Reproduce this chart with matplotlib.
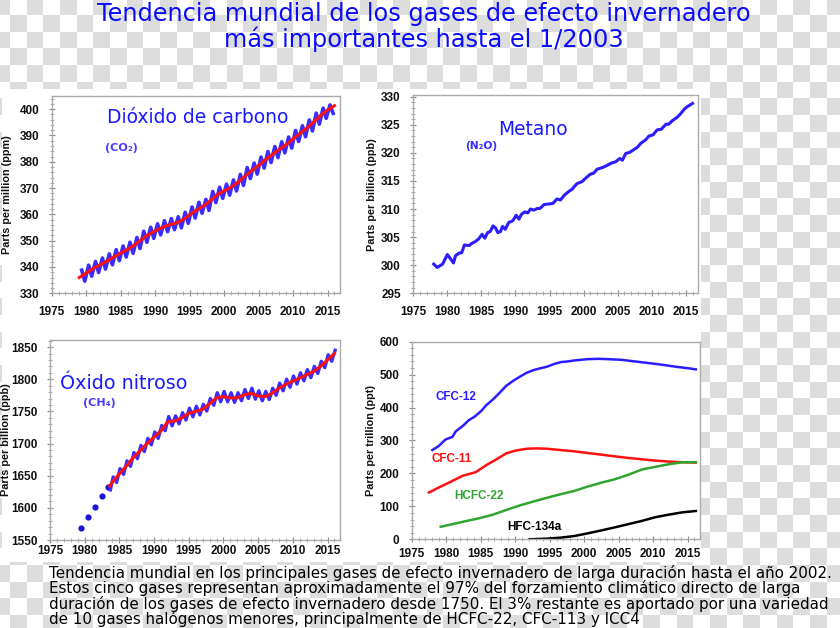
import numpy as np
import matplotlib
matplotlib.use("Agg")
import matplotlib.pyplot as plt
from matplotlib.patches import Rectangle
from matplotlib.ticker import AutoMinorLocator

# ---- data ----
# CO2 (ppm): smoothed trend and seasonal highs / lows
co2_trend_years = list(range(1979, 2017))
co2_trend = [336.0, 337.7, 339.4, 340.8, 342.2, 343.8, 345.3, 346.7, 348.3, 350.4,
             352.3, 353.7, 355.0, 356.0, 356.7, 357.9, 359.8, 361.7, 363.1, 365.2,
             367.5, 368.9, 370.3, 372.2, 374.5, 376.6, 378.6, 380.8, 382.8, 384.7,
             386.5, 388.7, 390.8, 392.8, 395.2, 397.6, 399.7, 401.3]
co2_years = list(range(1979, 2016))
co2_high = [338.8, 340.7, 342.1, 343.4, 345.0, 346.6, 348.0, 349.4, 351.2, 353.6,
            355.1, 356.4, 357.6, 358.4, 359.1, 360.8, 362.8, 364.6, 365.7, 368.7,
            370.3, 371.5, 373.1, 375.2, 377.8, 379.5, 381.8, 383.9, 385.8, 387.6,
            389.4, 391.9, 393.7, 395.9, 398.5, 400.4, 401.6]
co2_low = [334.6, 336.5, 337.9, 339.2, 340.8, 342.4, 343.8, 345.2, 347.0, 349.4,
           350.9, 352.2, 353.4, 354.2, 354.9, 356.6, 358.6, 360.4, 361.5, 364.5,
           366.1, 367.3, 368.9, 371.0, 373.6, 375.3, 377.6, 379.7, 381.6, 383.4,
           385.2, 387.7, 389.5, 391.7, 394.3, 396.5, 398.4]

# N2O panel (ppb)
n2o_years = [1978.0, 1978.5, 1979.3, 1980.0, 1980.6, 1980.9, 1981.2, 1981.8, 1982.1, 1982.5,
             1983.2, 1983.6, 1984.1, 1984.6, 1985.1, 1985.5, 1985.9, 1986.3, 1986.7, 1987.1,
             1987.4, 1987.8, 1988.1, 1988.5, 1989.0, 1989.6, 1990.1, 1990.5, 1990.9, 1991.4,
             1991.8, 1992.2, 1992.7, 1993.2, 1993.6, 1994.2, 1994.9, 1995.5, 1996.1, 1996.6,
             1997.2, 1997.8, 1998.3, 1999.0, 1999.8, 2000.4, 2001.0, 2001.5, 2002.0, 2002.8,
             2003.5, 2004.1, 2004.7, 2005.3, 2005.7, 2006.2, 2006.8, 2007.4, 2007.9, 2008.4,
             2009.1, 2009.6, 2010.2, 2010.8, 2011.4, 2012.1, 2012.5, 2013.0, 2013.7, 2014.2,
             2014.8, 2015.2, 2016.0]
n2o = [300.2, 299.6, 300.2, 301.9, 300.9, 300.4, 301.7, 302.2, 302.2, 303.6,
       303.5, 303.9, 304.2, 304.7, 305.5, 304.8, 305.8, 306.0, 307.0, 306.6,
       305.8, 306.0, 306.9, 306.4, 307.6, 307.9, 308.9, 308.2, 309.1, 309.5,
       309.3, 310.0, 309.8, 310.1, 310.1, 310.8, 310.9, 311.0, 311.8, 311.6,
       312.5, 313.1, 313.5, 314.5, 314.9, 315.6, 316.2, 316.4, 317.1, 317.4,
       317.8, 318.2, 318.4, 319.0, 318.7, 319.9, 320.1, 320.6, 321.0, 321.7,
       322.3, 323.0, 323.2, 324.1, 324.2, 325.1, 325.1, 325.7, 326.3, 326.9,
       327.8, 328.2, 328.8]

# CH4 panel (ppb)
ch4_dot_years = [1979.5, 1980.5, 1981.5, 1982.5, 1983.4]
ch4_dots = [1568, 1585, 1602, 1619, 1633]
ch4_trend_years = [1983.6] + list(range(1984, 2017))
ch4_trend = [1634, 1640, 1653, 1665, 1678, 1689, 1700, 1710, 1720, 1734, 1735,
             1740, 1747, 1750, 1753, 1762, 1771, 1773, 1771, 1771, 1776,
             1778, 1774, 1773, 1778, 1786, 1792, 1797, 1802, 1807, 1812,
             1820, 1830, 1840]
ch4_years = list(range(1984, 2016))
ch4_high = [1648, 1661, 1673, 1686, 1697, 1708, 1718, 1728, 1742, 1743,
            1748, 1755, 1758, 1761, 1770, 1779, 1781, 1779, 1779, 1784,
            1786, 1782, 1781, 1786, 1794, 1800, 1805, 1810, 1815, 1820,
            1828, 1838]
ch4_low = [1639.5, 1652, 1664.5, 1676.5, 1687.5, 1698, 1708, 1720, 1727.5, 1730.5,
           1736.5, 1741.5, 1744.5, 1750.5, 1759.5, 1765, 1765, 1764, 1766.5, 1770,
           1769, 1766.5, 1768.5, 1775, 1782, 1787.5, 1792.5, 1797.5, 1802.5, 1809,
           1818, 1828]

# halocarbons (ppt)
cfc12_years = [1978.0, 1978.9, 1979.9, 1980.9, 1981.4, 1982.4, 1983.3, 1984.1, 1985.1, 1985.8,
               1986.8, 1987.8, 1988.7, 1989.7, 1990.7, 1991.7, 1992.7, 1993.6, 1994.6, 1995.6,
               1996.6, 1997.6, 1998.6, 1999.5, 2000.5, 2002.0, 2003.5, 2005.4, 2007.4, 2009.4,
               2011.3, 2013.3, 2015.2, 2016.2]
cfc12 = [271, 283, 303, 311, 328, 344, 362, 372, 390, 407,
         425, 446, 466, 481, 494, 506, 514, 519, 524, 532,
         538, 540, 543, 545, 547, 548, 547, 545, 540, 535,
         530, 524, 519, 516]
cfc11_years = [1977.5, 1978.9, 1980.4, 1982.4, 1984.3, 1985.8, 1987.3, 1988.7, 1990.2, 1991.7,
               1993.2, 1994.6, 1996.6, 1998.6, 2000.5, 2002.5, 2004.4, 2006.4, 2008.4, 2010.3,
               2012.3, 2014.3, 2016.2]
cfc11 = [142, 157, 172, 193, 204, 225, 243, 261, 270, 275,
         276, 275, 271, 267, 262, 257, 252, 247, 243, 239,
         236, 234, 233]
hcfc22_years = [1979.2, 1980.9, 1982.8, 1984.8, 1986.8, 1988.7, 1990.7, 1992.7, 1994.6, 1996.6,
                1998.6, 2000.5, 2002.5, 2004.4, 2006.4, 2008.4, 2010.3, 2012.3, 2014.3, 2016.2]
hcfc22 = [38, 46, 55, 64, 75, 89, 103, 115, 126, 137,
          147, 160, 172, 182, 196, 212, 220, 228, 234, 234]
hfc134a_years = [1992.1, 1994.6, 1996.6, 1998.6, 2000.5, 2002.5, 2004.4, 2006.4, 2008.4, 2010.3,
                 2012.3, 2014.3, 2016.2]
hfc134a = [0, 2, 5, 10, 18, 27, 36, 46, 56, 67, 75, 82, 86]

xticks = [1975, 1980, 1985, 1990, 1995, 2000, 2005, 2010, 2015]

title1 = "Tendencia mundial de los gases de efecto invernadero"
title2 = "más importantes hasta el 1/2003"
caption = ["Tendencia mundial en los principales gases de efecto invernadero de larga duración hasta el año 2002.",
           "Estos cinco gases representan aproximadamente el 97% del forzamiento climático directo de larga",
           "duración de los gases de efecto invernadero desde 1750. El 3% restante es aportado por una variedad",
           "de 10 gases halógenos menores, principalmente de HCFC-22, CFC-113 y ICC4"]

W, H = 840, 628
fig = plt.figure(figsize=(W / 100, H / 100), dpi=100)

# checkered "transparent" backdrop with the white chart area on top
bg = fig.add_axes([0, 0, 1, 1], zorder=-10)
xs = np.arange(W) + 0.5
ys = np.arange(H) + 0.5
cell = 50 / 3
col = np.floor((xs - 10) / cell)
row = np.floor((ys - 15) / cell)
mask = ((col[None, :] + row[:, None]) % 2) == 0
img = np.ones((H, W, 3))
img[mask] = 0.867
bg.imshow(img, extent=[0, W, H, 0], interpolation="nearest", aspect="auto")
bg.add_patch(Rectangle((2, 89), 699, 473, facecolor="white", edgecolor="none"))
bg.set_xlim(0, W)
bg.set_ylim(H, 0)
bg.axis("off")


def px_axes(l, t, r, b):
    return fig.add_axes([l / W, 1 - b / H, (r - l) / W, (b - t) / H])


def style(ax, ylim, yticks, ylabel, labx, xpad):
    ax.set_facecolor("white")
    ax.set_xlim(1975, 2016.8)
    ax.set_ylim(*ylim)
    ax.set_xticks(xticks)
    ax.set_xticklabels([str(v) for v in xticks], fontweight="bold", family="Liberation Sans")
    ax.set_yticks(yticks)
    ax.set_yticklabels([str(v) for v in yticks], fontweight="bold", family="Liberation Sans")
    ax.xaxis.set_minor_locator(AutoMinorLocator(5))
    ax.yaxis.set_minor_locator(AutoMinorLocator(5))
    ax.tick_params(which="major", direction="inout", length=5, width=0.8,
                   color="#888888", labelsize=8.5, labelcolor="#111111")
    ax.tick_params(axis="y", which="major", pad=6.5)
    ax.tick_params(axis="x", which="major", pad=xpad)
    ax.tick_params(which="minor", direction="inout", length=2.5, width=0.6, color="#999999")
    for s in ax.spines.values():
        s.set_color("#aaaaaa")
        s.set_linewidth(1)
    ax.set_ylabel(ylabel, fontsize=7.8, fontweight="bold", family="Liberation Sans", color="#111111")
    ax.yaxis.set_label_coords(labx, 0.5)


blue = "#2c1dff"
red = "#ff1010"

# top left: CO2
ax1 = px_axes(51.7, 96, 340, 293.3)
zig_x, zig_y = [], []
for y, hi, lo in zip(co2_years, co2_high, co2_low):
    zig_x += [y + 0.35, y + 0.8]
    zig_y += [hi, lo]
ax1.plot(zig_x, zig_y, color="#3b2dff", lw=2.6)
ax1.plot(co2_trend_years, co2_trend, color=red, lw=2.2)
style(ax1, (330, 405), list(range(330, 401, 10)), "Parts per million (ppm)", -0.136, 7)
t1 = ax1.text(0.192, 0.889, "Dióxido de carbono", transform=ax1.transAxes, color="#1a1aff",
              fontsize=12.5, va="center", ha="left")
t1b = ax1.text(0.185, 0.736, "(CO₂)", transform=ax1.transAxes, color="#4a3cff",
               fontsize=7.5, fontweight="bold", va="center", ha="left")

# top right: N2O
ax2 = px_axes(413.3, 95, 698, 293.3)
ax2.plot(n2o_years, n2o, color=blue, lw=2.2)
style(ax2, (295, 330.3), list(range(295, 331, 5)), "Parts per billion (ppb)", -0.126, 7)
t2 = ax2.text(0.2975, 0.8285, "Metano", transform=ax2.transAxes, color="#1a1aff",
              fontsize=12.5, va="center", ha="left")
t2b = ax2.text(0.1816, 0.743, "(N₂O)", transform=ax2.transAxes, color="#3a2cff",
               fontsize=7.5, fontweight="bold", va="center", ha="left")

# bottom left: CH4
ax3 = px_axes(50, 340, 340, 540)
ax3.plot(ch4_dot_years, ch4_dots, "o", color="#1c14d8", ms=4.5, mec="none")
zig_x, zig_y = [], []
for y, hi, lo in zip(ch4_years, ch4_high, ch4_low):
    zig_x += [y + 0.1, y + 0.6]
    zig_y += [hi, lo]
zig_x = [1983.7] + zig_x + [2016.1]
zig_y = [1628] + zig_y + [1845]
ax3.plot(zig_x, zig_y, color="#3b2dff", lw=2.4)
ax3.plot(ch4_trend_years, ch4_trend, color=red, lw=2.2)
style(ax3, (1550, 1861), list(range(1550, 1851, 50)), "Parts per billion (ppb)", -0.134, 1)
t3 = ax3.text(0.0345, 0.785, "Óxido nitroso", transform=ax3.transAxes, color="#1a1aff",
              fontsize=13, va="center", ha="left")
t3b = ax3.text(0.114, 0.685, "(CH₄)", transform=ax3.transAxes, color="#4a3cff",
               fontsize=7.5, fontweight="bold", va="center", ha="left")

# bottom right: halocarbons
ax4 = px_axes(411.7, 341.7, 700, 539.3)
ax4.plot(cfc12_years, cfc12, color=blue, lw=1.8)
ax4.plot(cfc11_years, cfc11, color=red, lw=1.8)
ax4.plot(hcfc22_years, hcfc22, color="#2fa52f", lw=1.8)
ax4.plot(hfc134a_years, hfc134a, color="black", lw=1.8)
style(ax4, (0, 600), list(range(0, 601, 100)), "Parts per trillion (ppt)", -0.124, 4)
lab_kw = dict(transform=ax4.transAxes, fontsize=7.6, fontweight="bold", va="center",
              ha="left", family="Liberation Sans")
l1 = ax4.text(0.081, 0.72, "CFC-12", color="#2c1dff", **lab_kw)
l2 = ax4.text(0.0704, 0.406, "CFC-11", color="#ff1010", **lab_kw)
l3 = ax4.text(0.1467, 0.219, "HCFC-22", color="#2fa52f", **lab_kw)
l4 = ax4.text(0.3305, 0.0622, "HFC-134a", color="black", **lab_kw)

# title and caption
tt1 = fig.text(423.5 / W, 1 - 14 / H, title1, color="#0a0aff", fontsize=18,
               ha="center", va="center")
tt2 = fig.text(423.5 / W, 1 - 39 / H, title2, color="#0a0aff", fontsize=18,
               ha="center", va="center")
caps = []
for i, line in enumerate(caption):
    caps.append(fig.text(49 / W, 1 - (578 + 15.4 * i) / H, line, color="black",
                         fontsize=9.7, ha="left", va="baseline"))

# scale text sizes so widths match the reference
renderer = fig.canvas.get_renderer()


def fit(txt, width_px):
    w = txt.get_window_extent(renderer).width
    txt.set_fontsize(txt.get_fontsize() * width_px / w)


fit(tt1, 655)
tt2.set_fontsize(tt1.get_fontsize())
fit(caps[0], 787)
for c in caps[1:]:
    c.set_fontsize(caps[0].get_fontsize())
fit(t1, 183)
fit(t2, 70)
fit(t3, 127)
fit(t1b, 33)
fit(t2b, 32)
fit(t3b, 33)
fit(l1, 40)
fit(l3, 49)
l2.set_fontsize(l1.get_fontsize())
l4.set_fontsize(l3.get_fontsize())

fig.savefig("out.png", dpi=100)
